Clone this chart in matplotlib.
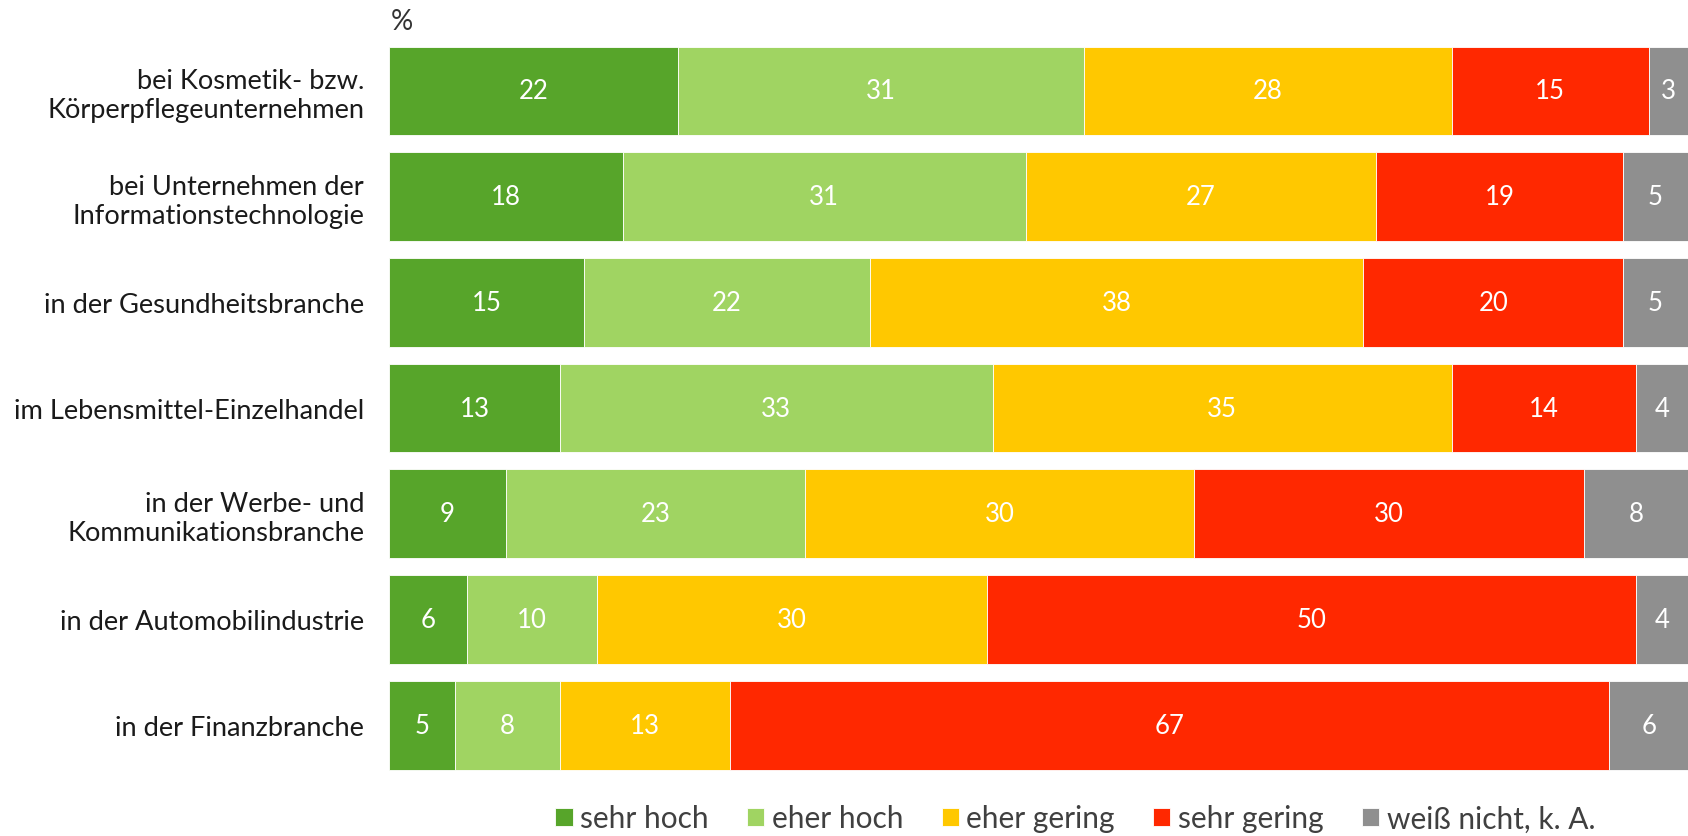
import matplotlib.pyplot as plt
import numpy as np

plt.rcParams['font.family'] = ['Lato', 'DejaVu Sans']

# Data
categories = [
    'bei Kosmetik- bzw.\nKörperpflegeunternehmen',
    'bei Unternehmen der\nInformationstechnologie',
    'in der Gesundheitsbranche',
    'im Lebensmittel-Einzelhandel',
    'in der Werbe- und\nKommunikationsbranche',
    'in der Automobilindustrie',
    'in der Finanzbranche',
]
series_names = ['sehr hoch', 'eher hoch', 'eher gering', 'sehr gering', 'weiß nicht, k. A.']
sehr_hoch = [22, 18, 15, 13, 9, 6, 5]
eher_hoch = [31, 31, 22, 33, 23, 10, 8]
eher_gering = [28, 27, 38, 35, 30, 30, 13]
sehr_gering = [15, 19, 20, 14, 30, 50, 67]
weiss_nicht = [3, 5, 5, 4, 8, 4, 6]
colors = ['#57A52A', '#A0D462', '#FFC800', '#FF2800', '#8F8F8F']

series = [sehr_hoch, eher_hoch, eher_gering, sehr_gering, weiss_nicht]

# rows are drawn as shares of 100 % (the rounded labels don't always sum to 100)
totals = np.sum(np.array(series), axis=0)

fig = plt.figure(figsize=(16.88, 8.37), dpi=100)
ax = fig.add_axes([0.2305, 0.0693, 0.7695, 0.884])

y = np.arange(len(categories))
left = np.zeros(len(categories))
for name, vals, col in zip(series_names, series, colors):
    vals = np.array(vals)
    widths = vals / totals * 100
    ax.barh(y, widths, left=left, height=0.84, color=col, label=name,
            edgecolor='white', linewidth=0.6)
    for yi, l, w, v in zip(y, left, widths, vals):
        ax.text(l + w / 2, yi, str(v), ha='center', va='center',
                color='white', fontsize=18.5)
    left += widths

ax.set_xlim(0, 100)
ax.set_ylim(len(categories) - 0.5, -0.5)
ax.set_yticks(y)
ax.set_yticklabels(categories, fontsize=19.6, color='#1a1a1a', linespacing=1.2)
ax.tick_params(axis='y', length=0, pad=18)
ax.set_xticks([])
for s in ax.spines.values():
    s.set_visible(False)

fig.text(0.2315, 0.974, '%', fontsize=20, color='#333333', ha='left', va='center')

fig.legend(loc='center', bbox_to_anchor=(0.637, 0.021), ncol=5, frameon=False,
           fontsize=21.5, handlelength=0.58, handleheight=0.58, handletextpad=0.25,
           columnspacing=1.28, labelcolor='#404040', borderpad=0.2)

plt.savefig('out.png', dpi=100)
